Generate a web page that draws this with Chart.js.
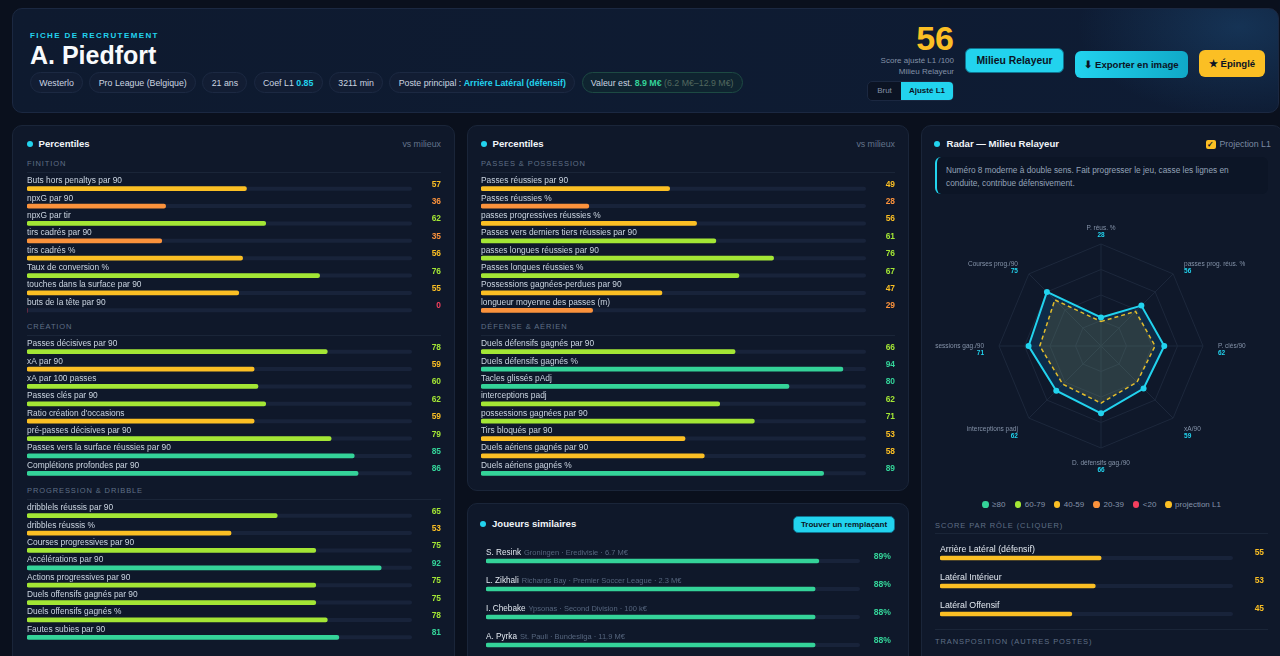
<!DOCTYPE html>
<html lang="fr"><head><meta charset="utf-8">
<title>Fiche de recrutement — A. Piedfort</title>
<script src="https://cdn.jsdelivr.net/npm/chart.js@4.4.1/dist/chart.umd.min.js"></script>
<style>
html,body{margin:0;padding:0;width:1280px;height:656px;overflow:hidden;background:#0a101d;font-family:"Liberation Sans",Arial,sans-serif;}
.card{position:absolute;box-sizing:border-box;background:#0f182a;border:1px solid #1a2539;border-radius:10px;}
.t{position:absolute;line-height:0;white-space:nowrap;}
.r{transform:translateX(-100%);}
.c{transform:translateX(-50%);}
.dot{position:absolute;width:6px;height:6px;border-radius:50%;background:#22d3ee;}
.sec{font-size:7.5px;letter-spacing:0.9px;color:#5f6f86;}
.hr{position:absolute;height:1px;background:#1a2538;}
canvas{position:absolute;}
.chips{position:absolute;left:30px;top:72px;display:flex;gap:6.3px;}
.chip{height:21px;line-height:21px;box-sizing:border-box;padding:0 8.3px;border:1px solid #1c2942;background:#121d33;border-radius:11px;font-size:8.8px;color:#cbd5e1;white-space:nowrap;}
.btn{position:absolute;box-sizing:border-box;display:flex;align-items:center;justify-content:center;font-weight:bold;color:#0b1324;border-radius:6px;white-space:nowrap;}
</style></head>
<body>
<!-- HEADER -->
<div class="card" style="left:12px;top:8px;width:1267px;height:105px;background:radial-gradient(ellipse 160px 90px at 1225px 18px,rgba(40,110,170,0.28),rgba(40,110,170,0) 100%),linear-gradient(90deg,#0e1a2f,#0e1c34);border-color:#1b2841;"></div>
<div class="t" style="left:30px;top:36px;font-size:8px;font-weight:bold;letter-spacing:1.4px;color:#22d3ee;">FICHE DE RECRUTEMENT</div>
<div class="t" style="left:30px;top:55px;font-size:25px;font-weight:bold;color:#f8fafc;">A. Piedfort</div>
<div class="chips">
  <div class="chip">Westerlo</div>
  <div class="chip">Pro League (Belgique)</div>
  <div class="chip">21 ans</div>
  <div class="chip">Coef L1 <b style="color:#22d3ee">0.85</b></div>
  <div class="chip">3211 min</div>
  <div class="chip">Poste principal : <b style="color:#22d3ee">Arrière Latéral (défensif)</b></div>
  <div class="chip" style="background:#0f2430;border-color:#1d4a43;">Valeur est. <b style="color:#34d399">8.9 M€</b> <span style="color:#52685f;">(6.2 M€–12.9 M€)</span></div>
</div>
<div class="t r" style="left:954px;top:38px;font-size:34px;font-weight:bold;color:#fbbf24;">56</div>
<div class="t r" style="left:954px;top:60.5px;font-size:8px;color:#8391a7;">Score ajusté L1 /100</div>
<div class="t r" style="left:954px;top:71.5px;font-size:8px;color:#8391a7;">Milieu Relayeur</div>
<div style="position:absolute;left:867px;top:81px;width:87px;height:20px;box-sizing:border-box;border:1px solid #1b2841;border-radius:5px;background:#0b1323;overflow:hidden;font-size:8px;">
  <div style="position:absolute;left:0;top:0;width:33px;height:18px;line-height:18px;text-align:center;color:#8391a7;">Brut</div>
  <div style="position:absolute;left:33px;top:0;right:0;height:18px;line-height:18px;text-align:center;background:#22d3ee;color:#0b1324;font-weight:bold;">Ajusté L1</div>
</div>
<div class="btn" style="left:965px;top:48px;width:99px;height:25px;background:#22d3ee;border:1px solid #0e7490;font-size:10.4px;">Milieu Relayeur</div>
<div class="btn" style="left:1075px;top:51px;width:113px;height:27px;background:linear-gradient(90deg,#22d3ee,#10a9c8);font-size:9.6px;">⬇ Exporter en image</div>
<div class="btn" style="left:1199px;top:50px;width:66px;height:27px;background:#fbbf24;font-size:9.6px;">★ Épinglé</div>

<!-- PANEL 1 -->
<div class="card" style="left:12px;top:125px;width:443px;height:545px;"></div>
<div class="dot" style="left:27px;top:141px;"></div>
<div class="t" style="left:38.5px;top:144px;font-size:9.6px;font-weight:bold;color:#f1f5f9;">Percentiles</div>
<div class="t r" style="left:441px;top:144px;font-size:8.8px;color:#64748b;">vs milieux</div>
<div class="t sec" style="left:27px;top:164px;">FINITION</div>
<div class="hr" style="left:27px;top:172px;width:414px;"></div>
<canvas id="g1" width="414" height="151" style="left:27px;top:168px;"></canvas>
<div class="t sec" style="left:27px;top:327px;">CRÉATION</div>
<div class="hr" style="left:27px;top:335px;width:414px;"></div>
<canvas id="g2" width="414" height="151" style="left:27px;top:331px;"></canvas>
<div class="t sec" style="left:27px;top:491px;">PROGRESSION &amp; DRIBBLE</div>
<div class="hr" style="left:27px;top:499px;width:414px;"></div>
<canvas id="g3" width="414" height="151" style="left:27px;top:495px;"></canvas>

<!-- PANEL 2 -->
<div class="card" style="left:467px;top:125px;width:442px;height:366px;"></div>
<div class="dot" style="left:481px;top:141px;"></div>
<div class="t" style="left:492.5px;top:144px;font-size:9.6px;font-weight:bold;color:#f1f5f9;">Percentiles</div>
<div class="t r" style="left:895px;top:144px;font-size:8.8px;color:#64748b;">vs milieux</div>
<div class="t sec" style="left:481px;top:164px;">PASSES &amp; POSSESSION</div>
<div class="hr" style="left:481px;top:172px;width:414px;"></div>
<canvas id="g4" width="414" height="151" style="left:481px;top:168px;"></canvas>
<div class="t sec" style="left:481px;top:327px;">DÉFENSE &amp; AÉRIEN</div>
<div class="hr" style="left:481px;top:335px;width:414px;"></div>
<canvas id="g5" width="414" height="151" style="left:481px;top:331px;"></canvas>

<!-- PANEL 3 -->
<div class="card" style="left:467px;top:503px;width:442px;height:200px;"></div>
<div class="dot" style="left:480px;top:521px;"></div>
<div class="t" style="left:492px;top:524px;font-size:9.6px;font-weight:bold;color:#f1f5f9;">Joueurs similaires</div>
<div class="btn" style="left:793px;top:515.5px;width:102px;height:17px;background:#22d3ee;border:1px solid #0e7490;border-radius:5px;font-size:8px;">Trouver un remplaçant</div>
<canvas id="g6" width="405" height="124" style="left:486px;top:535px;"></canvas>

<!-- PANEL 4 -->
<div class="card" style="left:921px;top:125px;width:362px;height:560px;"></div>
<div class="dot" style="left:934px;top:141px;"></div>
<div class="t" style="left:946.5px;top:144px;font-size:9.6px;font-weight:bold;color:#f1f5f9;">Radar — Milieu Relayeur</div>
<div style="position:absolute;left:1206px;top:139.5px;width:9.5px;height:9.5px;border-radius:2px;background:#fbbf24;color:#0b1324;font-size:8px;line-height:9.5px;text-align:center;font-weight:bold;">✓</div>
<div class="t" style="left:1219.5px;top:144px;font-size:8.8px;color:#7b8aa1;">Projection L1</div>
<div style="position:absolute;left:935px;top:157px;width:333px;height:37px;box-sizing:border-box;background:#0c1526;border-left:2px solid #22d3ee;border-radius:6px;"></div>
<div class="t" style="left:946px;top:170px;font-size:8.3px;color:#94a3b8;">Numéro 8 moderne à double sens. Fait progresser le jeu, casse les lignes en</div>
<div class="t" style="left:946px;top:182.5px;font-size:8.3px;color:#94a3b8;">conduite, contribue défensivement.</div>
<canvas id="radar" width="333" height="285" style="left:935px;top:204px;"></canvas>
<div id="legend"></div>
<div class="t sec" style="left:935px;top:526px;">SCORE PAR RÔLE (CLIQUER)</div>
<div class="hr" style="left:935px;top:533px;width:333px;"></div>
<canvas id="g7" width="324" height="96" style="left:940px;top:532px;"></canvas>
<div class="hr" style="left:935px;top:629px;width:333px;"></div>
<div class="t sec" style="left:935px;top:642px;">TRANSPOSITION (AUTRES POSTES)</div>

<script>
// ---------- DATA ----------
const finitionLabels = ["Buts hors penaltys par 90","npxG par 90","npxG par tir","tirs cadrés par 90","tirs cadrés %","Taux de conversion %","touches dans la surface par 90","buts de la tête par 90"];
const finitionValues = [57,36,62,35,56,76,55,0];
const creationLabels = ["Passes décisives par 90","xA par 90","xA par 100 passes","Passes clés par 90","Ratio création d'occasions","pré-passes décisives par 90","Passes vers la surface réussies par 90","Complétions profondes par 90"];
const creationValues = [78,59,60,62,59,79,85,86];
const progressionLabels = ["dribblels réussis par 90","dribbles réussis %","Courses progressives par 90","Accélérations par 90","Actions progressives par 90","Duels offensifs gagnés par 90","Duels offensifs gagnés %","Fautes subies par 90"];
const progressionValues = [65,53,75,92,75,75,78,81];
const passesLabels = ["Passes réussies par 90","Passes réussies %","passes progressives réussies %","Passes vers derniers tiers réussies par 90","passes longues réussies par 90","Passes longues réussies %","Possessions gagnées-perdues par 90","longueur moyenne des passes (m)"];
const passesValues = [49,28,56,61,76,67,47,29];
const defenseLabels = ["Duels défensifs gagnés par 90","Duels défensifs gagnés %","Tacles glissés pAdj","interceptions padj","possessions gagnées par 90","Tirs bloqués par 90","Duels aériens gagnés par 90","Duels aériens gagnés %"];
const defenseValues = [66,94,80,62,71,53,58,89];
const similarNames = ["S. Resink","L. Zikhali","I. Chebake","A. Pyrka"];
const similarMeta = ["Groningen · Eredivisie · 6.7 M€","Richards Bay · Premier Soccer League · 2.3 M€","Ypsonas · Second Division · 100 k€","St. Pauli · Bundesliga · 11.9 M€"];
const similarValues = [89,88,88,88];
const roleLabels = ["Arrière Latéral (défensif)","Latéral Intérieur","Latéral Offensif"];
const roleValues = [55,53,45];
const radarLabels = ["P. réus. %","passes prog. réus. %","P. clés/90","xA/90","D. défensifs gag./90","interceptions padj","Possessions gag./90","Courses prog./90"];
const radarValues = [28,56,62,59,66,62,71,75];
const projectionValues = [24,48,53,50,56,53,60,64];
const legendLabels = ["≥80","60-79","40-59","20-39","<20","projection L1"];

// ---------- STYLE ----------
const FONT = '"Liberation Sans", Arial, sans-serif';
const TRACK = '#18233a';
const legendColors = ['#34d399','#a3e635','#fbbf24','#fb923c','#f43f5e','#fbbf24'];
function colorFor(v){ return v>=80?'#34d399':v>=60?'#a3e635':v>=40?'#fbbf24':v>=20?'#fb923c':'#f43f5e'; }

function makeBars(id, labels, values, o){
  const cv = document.getElementById(id);
  return new Chart(cv, {
    type:'bar',
    data:{labels:labels, datasets:[{data:values, backgroundColor:values.map(colorFor), barThickness:4, borderRadius:2, borderSkipped:false}]},
    options:{indexAxis:'y', responsive:false, animation:false, events:[], devicePixelRatio:1,
      layout:{padding:{top:12,right:o.padRight,left:0,bottom:0}},
      scales:{x:{display:false,min:0,max:100}, y:{display:false}},
      plugins:{legend:{display:false}, tooltip:{enabled:false}}},
    plugins:[{
      id:'rows',
      beforeDatasetsDraw(chart){
        const {ctx, scales:{x,y}} = chart;
        ctx.save(); ctx.fillStyle = TRACK;
        const x0 = x.getPixelForValue(0), x1 = x.getPixelForValue(100);
        labels.forEach((l,i)=>{ const cy=y.getPixelForValue(i); ctx.beginPath(); ctx.roundRect(x0, cy-2, x1-x0, 4, 2); ctx.fill(); });
        ctx.restore();
      },
      afterDatasetsDraw(chart){
        const {ctx, chartArea, scales:{y}} = chart;
        ctx.save();
        ctx.textBaseline='alphabetic';
        labels.forEach((l,i)=>{
          const cy = y.getPixelForValue(i);
          ctx.textAlign='left';
          ctx.font = o.labelSize+'px '+FONT;
          ctx.fillStyle = o.labelColor;
          ctx.fillText(l, chartArea.left, cy - o.labelOff);
          if (o.meta){
            const w = ctx.measureText(l).width;
            ctx.font = o.metaSize+'px '+FONT; ctx.fillStyle = '#56667e';
            ctx.fillText(o.meta[i], chartArea.left + w + 3, cy - o.labelOff);
          }
          ctx.textAlign='right';
          ctx.font = 'bold '+o.valSize+'px '+FONT;
          ctx.fillStyle = colorFor(values[i]);
          ctx.fillText(values[i] + (o.suffix||''), chart.width, cy - o.valOff);
        });
        ctx.restore();
      }
    }]
  });
}

const pct = {padRight:29, labelSize:8.4, labelColor:'#cbd5e1', labelOff:5.5, valSize:8.4, valOff:2};
makeBars('g1', finitionLabels, finitionValues, pct);
makeBars('g2', creationLabels, creationValues, pct);
makeBars('g3', progressionLabels, progressionValues, pct);
makeBars('g4', passesLabels, passesValues, pct);
makeBars('g5', defenseLabels, defenseValues, pct);
makeBars('g6', similarNames, similarValues, {padRight:31, labelSize:8.2, labelColor:'#e2e8f0', labelOff:5.7, meta:similarMeta, metaSize:7.5, valSize:8.6, valOff:2.4, suffix:'%'});
makeBars('g7', roleLabels, roleValues, {padRight:31, labelSize:8.8, labelColor:'#e2e8f0', labelOff:6, valSize:8.4, valOff:2.7});

// ---------- RADAR ----------
new Chart(document.getElementById('radar'), {
  type:'radar',
  data:{labels:radarLabels, datasets:[
    {label:'Milieu Relayeur', data:radarValues, borderColor:'#22d3ee', backgroundColor:'rgba(14,116,180,0.22)', borderWidth:2, pointRadius:3, pointBackgroundColor:'#22d3ee', pointBorderWidth:0, order:2},
    {label:'projection L1', data:projectionValues, borderColor:'#e3bd2c', borderDash:[4,3], borderWidth:1.5, backgroundColor:'rgba(251,191,36,0.12)', pointRadius:0, order:1}
  ]},
  options:{responsive:false, animation:false, events:[], devicePixelRatio:1,
    layout:{padding:{top:40,bottom:40,left:0,right:0}},
    scales:{r:{min:0,max:100, ticks:{display:false, stepSize:25}, grid:{color:'#1d283c', lineWidth:1}, angleLines:{color:'#1d283c'}, pointLabels:{display:false}}},
    plugins:{legend:{display:false}, tooltip:{enabled:false}}},
  plugins:[{
    id:'plabels',
    afterDraw(chart){
      const s = chart.scales.r, ctx = chart.ctx;
      ctx.save(); ctx.textBaseline='middle';
      radarLabels.forEach((lab,i)=>{
        const v = s.getPointPosition(i, s.drawingArea);
        const a = s.getIndexAngle(i) - Math.PI/2;
        const ax = Math.cos(a), ay = Math.sin(a);
        const side = Math.abs(ax) < 0.01 ? 0 : Math.sign(ax);
        const vert = Math.abs(ay) < 0.01 ? 0 : Math.sign(ay);
        let x = v.x, ny;
        if (side === 0){ ny = vert < 0 ? v.y - 15.5 : v.y + 15.6; }
        else if (vert === 0){ x = v.x + side*15; ny = v.y; }
        else { x = v.x + side*11; ny = vert < 0 ? v.y - 10 : v.y + 11; }
        ctx.textAlign = side === 0 ? 'center' : (side > 0 ? 'left' : 'right');
        ctx.font = '6.5px '+FONT; ctx.fillStyle = '#8593a9';
        ctx.fillText(lab, x, ny);
        ctx.font = 'bold 6.5px '+FONT; ctx.fillStyle = '#22d3ee';
        ctx.fillText(String(radarValues[i]), x, ny + 7);
      });
      ctx.restore();
    }
  }]
});

// ---------- LEGEND ----------
const legendDotX = [985.3,1018,1057,1096.7,1136,1168.3];
const lg = document.getElementById('legend');
legendLabels.forEach((l,i)=>{
  const d = document.createElement('div');
  d.style.cssText = 'position:absolute;width:6.7px;height:6.7px;border-radius:50%;top:501.4px;left:'+(legendDotX[i]-3.35)+'px;background:'+legendColors[i]+';';
  lg.appendChild(d);
  const t = document.createElement('div');
  t.className='t';
  t.style.cssText += 'left:'+(legendDotX[i]+6.8)+'px;top:504.7px;font-size:8px;color:#8593a9;';
  t.textContent = l;
  lg.appendChild(t);
});
</script>
</body></html>
